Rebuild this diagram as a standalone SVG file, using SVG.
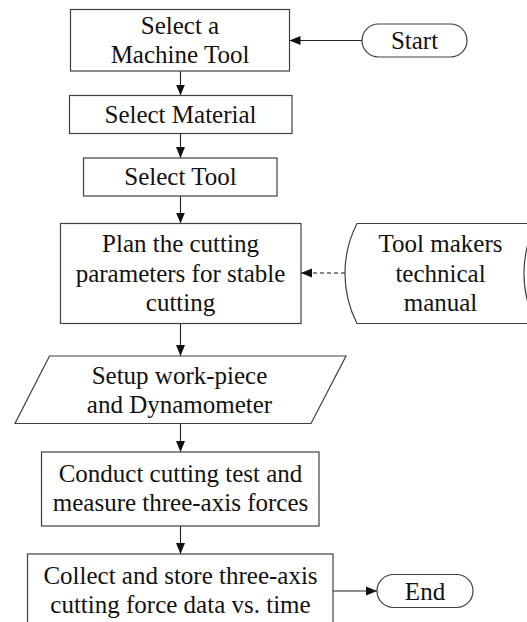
<svg xmlns="http://www.w3.org/2000/svg" width="527" height="622" viewBox="0 0 527 622">
<defs>
<style>
.n{fill:#fff;stroke:#404040;stroke-width:1.2}
.t{font-size:25px;fill:#111;text-anchor:middle}
.c{fill:none;stroke:#222;stroke-width:1.1}
.d{stroke-dasharray:4 3;stroke:#111}
</style>
<marker id="ah" markerUnits="userSpaceOnUse" markerWidth="12" markerHeight="10" refX="11" refY="5" orient="auto">
<path d="M0,0.5 L11,5 L0,9.5 Z" fill="#111"/>
</marker>
</defs>
<rect width="527" height="622" fill="#fff"/>
<g id="connectors">
<line class="c" x1="180.5" y1="71" x2="180.5" y2="95.5" marker-end="url(#ah)"/>
<line class="c" x1="180.5" y1="133.5" x2="180.5" y2="158" marker-end="url(#ah)"/>
<line class="c" x1="180.5" y1="196" x2="180.5" y2="223.5" marker-end="url(#ah)"/>
<line class="c" x1="180.5" y1="323.5" x2="180.5" y2="356" marker-end="url(#ah)"/>
<line class="c" x1="180.5" y1="423.5" x2="180.5" y2="452" marker-end="url(#ah)"/>
<line class="c" x1="180.5" y1="526" x2="180.5" y2="554" marker-end="url(#ah)"/>
<line class="c" x1="362" y1="40.5" x2="289.5" y2="40.5" marker-end="url(#ah)"/>
<line class="c d" x1="345" y1="273" x2="301" y2="273" marker-end="url(#ah)"/>
<line class="c" x1="333" y1="591" x2="377" y2="591" marker-end="url(#ah)"/>
</g>
<g id="start">
<rect class="n" x="362" y="24" width="105" height="33" rx="16.5"/>
<text class="t" x="414.5" y="48.5" font-family="Liberation Serif" style="font-family:'Liberation Serif'">Start</text>
</g>
<g id="select-machine">
<rect class="n" x="70.5" y="9.5" width="219" height="61.5"/>
<text class="t" x="180" y="33.5" font-family="Liberation Serif" style="font-family:'Liberation Serif'">Select a</text>
<text class="t" x="180" y="63" font-family="Liberation Serif" style="font-family:'Liberation Serif'">Machine Tool</text>
</g>
<g id="select-material">
<rect class="n" x="69.5" y="95.5" width="222.5" height="38"/>
<text class="t" x="180.5" y="122.5" font-family="Liberation Serif" style="font-family:'Liberation Serif'">Select Material</text>
</g>
<g id="select-tool">
<rect class="n" x="83.5" y="158" width="193.5" height="38"/>
<text class="t" x="180.5" y="185" font-family="Liberation Serif" style="font-family:'Liberation Serif'">Select Tool</text>
</g>
<g id="plan">
<rect class="n" x="60.5" y="223.5" width="240.5" height="100"/>
<text class="t" x="180.5" y="252" font-family="Liberation Serif" style="font-family:'Liberation Serif'">Plan the cutting</text>
<text class="t" x="180.5" y="281.5" font-family="Liberation Serif" style="font-family:'Liberation Serif'">parameters for stable</text>
<text class="t" x="180.5" y="310.5" font-family="Liberation Serif" style="font-family:'Liberation Serif'">cutting</text>
</g>
<g id="manual">
<path class="n" d="M357,223.5 L536,223.5 A110 110 0 0 0 536,323.5 L357,323.5 A110 110 0 0 1 357,223.5 Z"/>
<text class="t" x="440.5" y="252" font-family="Liberation Serif" style="font-family:'Liberation Serif'">Tool makers</text>
<text class="t" x="440.5" y="281.5" font-family="Liberation Serif" style="font-family:'Liberation Serif'">technical</text>
<text class="t" x="440.5" y="310.5" font-family="Liberation Serif" style="font-family:'Liberation Serif'">manual</text>
</g>
<g id="setup">
<polygon class="n" points="49.5,356 346,356 311,423.5 15,423.5"/>
<text class="t" x="179.5" y="384" font-family="Liberation Serif" style="font-family:'Liberation Serif'">Setup work-piece</text>
<text class="t" x="179.5" y="412.5" font-family="Liberation Serif" style="font-family:'Liberation Serif'">and Dynamometer</text>
</g>
<g id="conduct">
<rect class="n" x="41.5" y="452" width="277.5" height="74"/>
<text class="t" x="180.5" y="482" font-family="Liberation Serif" style="font-family:'Liberation Serif'">Conduct cutting test and</text>
<text class="t" x="180.5" y="511" font-family="Liberation Serif" style="font-family:'Liberation Serif'">measure three-axis forces</text>
</g>
<g id="collect">
<rect class="n" x="27.5" y="554" width="305.5" height="80"/>
<text class="t" x="180.5" y="584" font-family="Liberation Serif" style="font-family:'Liberation Serif'">Collect and store three-axis</text>
<text class="t" x="180.5" y="612.5" font-family="Liberation Serif" style="font-family:'Liberation Serif'">cutting force data vs. time</text>
</g>
<g id="end">
<rect class="n" x="377" y="574.5" width="96" height="33" rx="16.5"/>
<text class="t" x="425" y="599.5" font-family="Liberation Serif" style="font-family:'Liberation Serif'">End</text>
</g>
</svg>
